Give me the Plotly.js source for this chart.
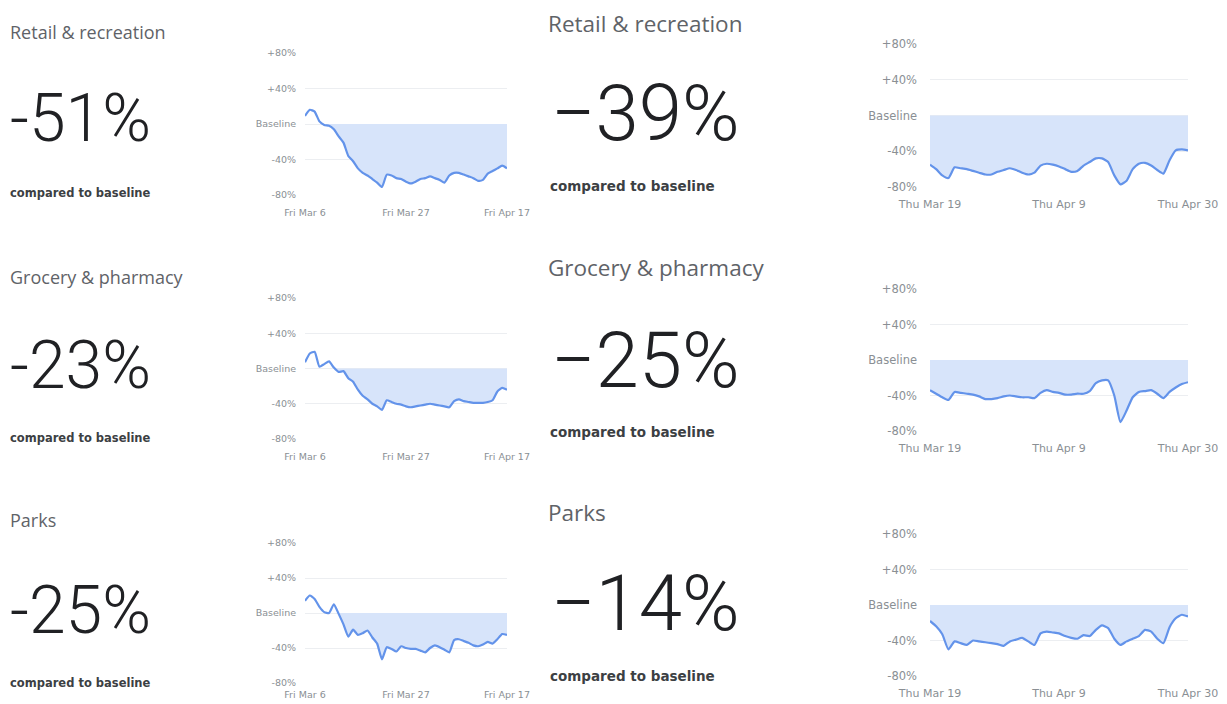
<!DOCTYPE html>
<html>
<head>
<meta charset="utf-8">
<script src="https://cdn.plot.ly/plotly-3.0.1.min.js"></script>
<style>html,body{margin:0;padding:0;background:#fff;}#chart{width:1227px;height:704px;}</style>
</head>
<body>
<div id="chart"></div>
<script>
// ---- Data ----
const categories = ["Retail & recreation", "Grocery & pharmacy", "Parks"];
const leftHeadline = ["-51%", "-23%", "-25%"];
const rightHeadline = ["\u221239%", "\u221225%", "\u221214%"];
const caption = "compared to baseline";

const leftStart = "2020-03-06";   // daily, 43 days
const rightStart = "2020-03-19";  // daily, 43 days

const leftRetail = [9,16,14,3,-1,-2,-6,-14,-21,-36,-42,-50,-55,-58,-62,-66,-71,-57,-58,-61,-62,-65,-67,-65,-62,-61,-59,-61,-63,-66,-58,-55,-55,-57,-59,-61,-64,-63,-56,-53,-50,-47,-50];
const leftGrocery = [7,17,19,2,5,8,1,-4,-3,-11,-15,-24,-31,-35,-40,-43,-47,-36,-38,-40,-41,-43,-44,-43,-42,-41,-40,-41,-42,-43,-44,-37,-35,-37,-38,-39,-39,-39,-38,-36,-26,-22,-24];
const leftParks = [14,20,16,7,1,0,10,-1,-13,-27,-19,-25,-23,-20,-28,-35,-53,-39,-41,-44,-38,-40,-41,-41,-43,-45,-40,-37,-39,-42,-45,-31,-30,-32,-34,-37,-38,-36,-33,-35,-30,-24,-25];

const rightRetail = [-55,-60,-67,-70,-58,-59,-60,-62,-64,-66,-66,-63,-61,-59,-61,-64,-66,-64,-56,-54,-55,-57,-60,-63,-62,-56,-52,-48,-48,-52,-67,-77,-73,-60,-54,-53,-56,-61,-65,-50,-39,-38,-39];
const rightGrocery = [-34,-38,-42,-45,-36,-37,-38,-39,-41,-44,-44,-43,-41,-40,-41,-42,-42,-43,-37,-34,-36,-37,-39,-39,-38,-38,-35,-26,-23,-23,-40,-70,-57,-42,-36,-35,-34,-38,-43,-36,-31,-27,-25];
const rightParks = [-18,-24,-33,-50,-41,-43,-45,-40,-41,-42,-43,-44,-46,-41,-39,-37,-41,-45,-32,-30,-31,-32,-35,-37,-38,-34,-35,-28,-23,-26,-38,-45,-41,-38,-35,-28,-30,-38,-43,-25,-15,-11,-13];

const yTickVals = [-80, -40, 0, 40, 80];
const yTickText = ["-80%", "-40%", "Baseline", "+40%", "+80%"];
const leftXTickVals = ["2020-03-06", "2020-03-27", "2020-04-17"];
const leftXTickText = ["Fri Mar 6", "Fri Mar 27", "Fri Apr 17"];
const rightXTickVals = ["2020-03-19", "2020-04-09", "2020-04-30"];
const rightXTickText = ["Thu Mar 19", "Thu Apr 9", "Thu Apr 30"];

// ---- Helpers ----
function dates(start, n) {
  const out = [];
  const d0 = new Date(start + "T00:00:00Z");
  for (let i = 0; i < n; i++) {
    const d = new Date(d0.getTime() + i * 86400000);
    out.push(d.toISOString().slice(0, 10));
  }
  return out;
}

const W = 1227, H = 704;
const LINE = "#6393ea", FILL = "#d7e4fa";
const TICKFONT = "DejaVu Sans, Arial, sans-serif";

const panels = [
  {vals: leftRetail, start: leftStart, side: "L", x: [305, 507], y: [53, 195], xs: 10},
  {vals: rightRetail, start: rightStart, side: "R", x: [930, 1188], y: [44, 187], xs: 9},
  {vals: leftGrocery, start: leftStart, side: "L", x: [305, 507], y: [298, 439], xs: 10},
  {vals: rightGrocery, start: rightStart, side: "R", x: [930, 1188], y: [289, 431], xs: 9},
  {vals: leftParks, start: leftStart, side: "L", x: [305, 507], y: [543, 683], xs: 4},
  {vals: rightParks, start: rightStart, side: "R", x: [930, 1188], y: [534, 676], xs: 9}
];

const traces = [];
const layout = {
  width: W, height: H,
  margin: {l: 0, r: 0, t: 0, b: 0},
  paper_bgcolor: "#fff", plot_bgcolor: "#fff",
  showlegend: false,
  font: {family: "Roboto, Arial, sans-serif"},
  annotations: []
};

panels.forEach((p, i) => {
  const k = i + 1;
  const xs = dates(p.start, p.vals.length);
  const xa = k === 1 ? "x" : "x" + k;
  const ya = k === 1 ? "y" : "y" + k;
  const below = p.vals.map(v => Math.min(v, 0));
  traces.push({x: xs, y: below, xaxis: xa, yaxis: ya, type: "scatter", mode: "lines",
    line: {width: 0, color: FILL, shape: "spline", smoothing: 0.5}, fill: "tozeroy", fillcolor: FILL, hoverinfo: "skip"});
  traces.push({x: xs, y: p.vals, xaxis: xa, yaxis: ya, type: "scatter", mode: "lines",
    line: {width: 2.2, color: LINE, shape: "spline", smoothing: 0.5}});
  const isL = p.side === "L";
  layout[k === 1 ? "xaxis" : "xaxis" + k] = {
    domain: [p.x[0] / W, p.x[1] / W], anchor: ya, type: "date",
    range: [xs[0], xs[xs.length - 1]],
    tickvals: isL ? leftXTickVals : rightXTickVals,
    ticktext: isL ? leftXTickText : rightXTickText,
    showgrid: false, zeroline: false, showline: false, ticks: "",
    ticklabelstandoff: p.xs,
    tickfont: {size: isL ? 9.5 : 11, color: "#8a8f94", family: TICKFONT}, fixedrange: true
  };
  layout[k === 1 ? "yaxis" : "yaxis" + k] = {
    domain: [1 - p.y[1] / H, 1 - p.y[0] / H], anchor: xa,
    range: [-80, 80], tickvals: yTickVals, ticktext: yTickText,
    showgrid: true, gridcolor: "#eceef1", gridwidth: 1, zeroline: false, showline: false, ticks: "",
    ticklabelstandoff: isL ? 8 : 12,
    tickfont: {size: isL ? 9.5 : 11.5, color: "#8a8f94", family: TICKFONT}, fixedrange: true
  };
});

function ann(text, px, py, size, color, weight, family) {
  layout.annotations.push({text: text, xref: "paper", yref: "paper", x: px / W, y: 1 - py / H,
    xanchor: "left", yanchor: "middle", showarrow: false,
    font: {size: size, color: color, weight: weight, family: family || "Roboto, Arial, sans-serif"}});
}

const leftRows = [{t: 32, n: 118, c: 193}, {t: 277, n: 365, c: 438}, {t: 520, n: 610, c: 683}];
const rightRows = [{t: 24, n: 114, c: 186}, {t: 268, n: 360, c: 432}, {t: 512, n: 603, c: 676}];
const TITLEFONT = "Open Sans, Arial, sans-serif";
const CAPFONT = "DejaVu Sans, Arial, sans-serif";

leftRows.forEach((r, i) => {
  ann(categories[i], 8, r.t, 18, "#5f6368", 400, TITLEFONT);
  ann(leftHeadline[i], 8, r.n, 66, "#202124", 300);
  ann(caption, 8, r.c, 11.5, "#3c4043", 700, CAPFONT);
});
rightRows.forEach((r, i) => {
  ann(categories[i], 546, r.t, 22.5, "#5f6368", 400, TITLEFONT);
  ann(rightHeadline[i], 549, r.n, 78, "#202124", 300);
  ann(caption, 548, r.c, 13.5, "#3c4043", 700, CAPFONT);
});

Plotly.newPlot("chart", traces, layout, {staticPlot: true, displayModeBar: false});
</script>
</body>
</html>
